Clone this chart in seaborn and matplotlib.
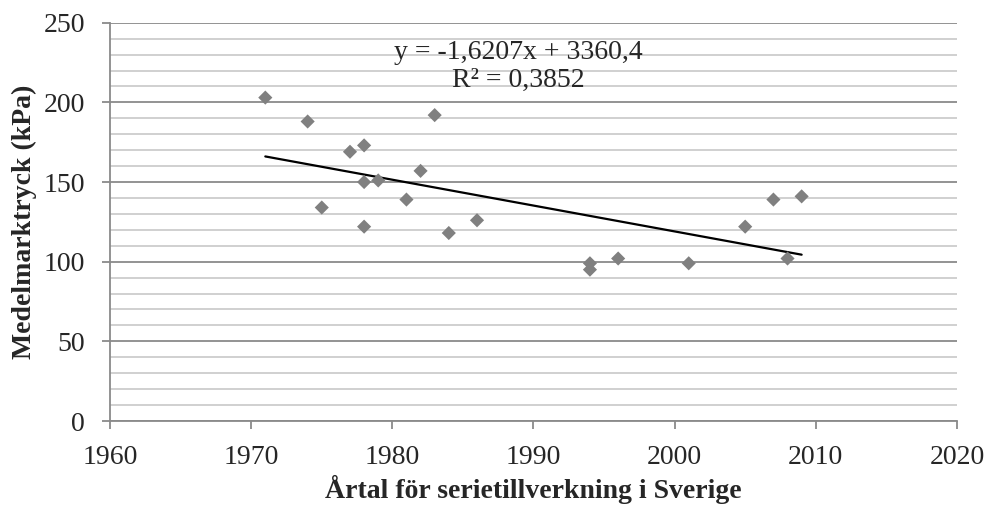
import matplotlib
matplotlib.use("Agg")
import matplotlib.pyplot as plt
from matplotlib.ticker import MultipleLocator
import numpy as np
import seaborn as sns

# data
years = [1971, 1974, 1975, 1977, 1978, 1978, 1978, 1979, 1981, 1982, 1983,
         1984, 1986, 1994, 1994, 1996, 2001, 2005, 2007, 2008, 2009]
pressure = [203, 188, 134, 169, 173, 150, 122, 151, 139, 157, 192,
            118, 126, 99, 95, 102, 99, 122, 139, 102, 141]

eq_text = "y = -1,6207x + 3360,4"
r2_text = "R² = 0,3852"
x_label = "Årtal för serietillverkning i Sverige"
y_label = "Medelmarktryck (kPa)"

sns.set_style("white")
plt.rcParams['font.family'] = ['Liberation Serif', 'DejaVu Serif']

fig = plt.figure(figsize=(9.87, 5.07), dpi=100)
ax = fig.add_axes([0.1115, 0.1696, 0.858, 0.7856])

# grid lines (Excel style: major dark, minor light)
ax.yaxis.set_major_locator(MultipleLocator(50))
ax.yaxis.set_minor_locator(MultipleLocator(10))
ax.xaxis.set_major_locator(MultipleLocator(10))
ax.grid(True, which='major', axis='y', color='#8a8a8a', linewidth=1.3)
ax.grid(True, which='minor', axis='y', color='#c4c4c4', linewidth=1.1)
ax.set_axisbelow(True)

sns.scatterplot(x=years, y=pressure, marker='D', s=52, color='#808080',
                edgecolor='none', ax=ax, zorder=3)
sns.regplot(x=years, y=pressure, scatter=False, ci=None, truncate=True,
            line_kws={'color': 'black', 'linewidth': 1.6}, ax=ax)

ax.set_xlim(1960, 2020)
ax.set_ylim(0, 250)

for side in ['top', 'right']:
    ax.spines[side].set_visible(False)
for side in ['left', 'bottom']:
    ax.spines[side].set_color('#8a8a8a')
    ax.spines[side].set_linewidth(1.3)

ax.tick_params(axis='both', which='major', labelsize=20, color='#8a8a8a',
               length=6, width=1.3, direction='out')
ax.tick_params(axis='y', which='major', pad=12, left=True)
ax.tick_params(axis='x', which='major', pad=11, bottom=True)
ax.tick_params(axis='y', which='minor', left=False)

ax.text(1988.9, 231.5, eq_text, ha='center', va='center', fontsize=20)
ax.text(1988.9, 213.5, r2_text, ha='center', va='center', fontsize=20)

ax.set_xlabel(x_label, fontsize=20, fontweight='bold', labelpad=4)
ax.set_ylabel(y_label, fontsize=20, fontweight='bold', labelpad=5)

fig.savefig("out.png", dpi=100)
plt.close(fig)
